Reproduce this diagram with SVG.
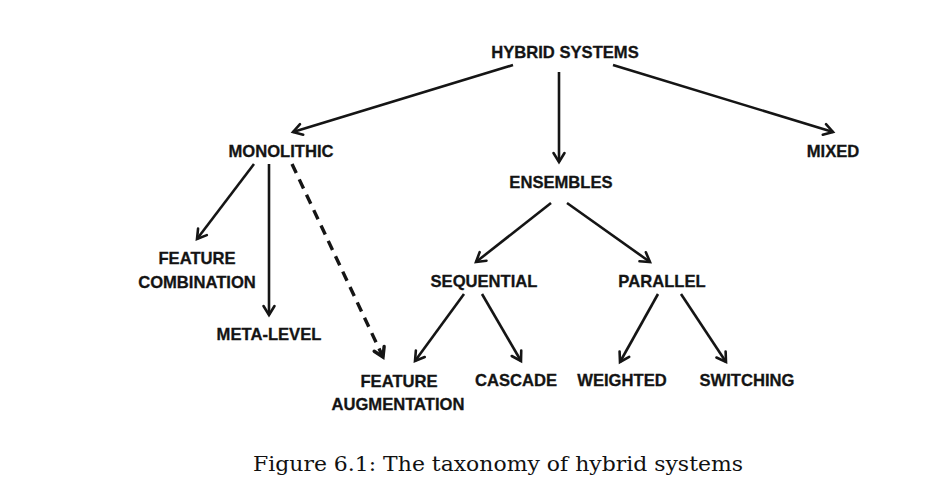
<svg xmlns="http://www.w3.org/2000/svg" width="932" height="496" viewBox="0 0 932 496">
<style>
.lbl{font-family:"Liberation Sans",Arial,sans-serif;font-weight:bold;font-size:16.6px;fill:#141414;text-anchor:middle;stroke:#141414;stroke-width:0.3}
.cap{font-family:"DejaVu Serif","Liberation Serif",serif;font-size:20px;fill:#111}
.c{stroke:#151515;stroke-width:2.6;fill:none}
.d{stroke-width:3.4;stroke-dasharray:10 7}
</style>
<defs>
<marker id="ah" markerUnits="userSpaceOnUse" markerWidth="16" markerHeight="16" viewBox="0 0 16 16" refX="12" refY="8" orient="auto">
<path d="M3,2.5 L12,8 L3,13.5" fill="none" stroke="#151515" stroke-width="2.6" stroke-linecap="round" stroke-linejoin="miter"/>
</marker>
<marker id="ahd" markerUnits="userSpaceOnUse" markerWidth="16" markerHeight="16" viewBox="0 0 16 16" refX="12" refY="8" orient="auto">
<path d="M3,2.5 L12,8 L3,13.5" fill="none" stroke="#151515" stroke-width="3.4" stroke-linecap="round" stroke-linejoin="miter"/>
</marker>
</defs>
<rect width="932" height="496" fill="#fff"/>
<g id="connectors">
<line class="c" x1="513" y1="65" x2="293" y2="132" marker-end="url(#ah)"/>
<line class="c" x1="559" y1="72" x2="559" y2="162" marker-end="url(#ah)"/>
<line class="c" x1="613" y1="65" x2="833" y2="132" marker-end="url(#ah)"/>
<line class="c" x1="254" y1="164" x2="197" y2="239" marker-end="url(#ah)"/>
<line class="c" x1="269" y1="164" x2="269" y2="315" marker-end="url(#ah)"/>
<line class="c d" x1="292" y1="164" x2="383" y2="357" marker-end="url(#ahd)"/>
<line class="c" x1="551" y1="203" x2="476" y2="262" marker-end="url(#ah)"/>
<line class="c" x1="567" y1="203" x2="650" y2="262" marker-end="url(#ah)"/>
<line class="c" x1="464" y1="294" x2="415" y2="361" marker-end="url(#ah)"/>
<line class="c" x1="482" y1="294" x2="521" y2="361" marker-end="url(#ah)"/>
<line class="c" x1="658" y1="294" x2="620" y2="362" marker-end="url(#ah)"/>
<line class="c" x1="681" y1="294" x2="726" y2="362" marker-end="url(#ah)"/>
</g>
<g id="hybrid"><text class="lbl" x="565" y="58">HYBRID SYSTEMS</text></g>
<g id="monolithic"><text class="lbl" x="281" y="157">MONOLITHIC</text></g>
<g id="ensembles"><text class="lbl" x="561" y="188">ENSEMBLES</text></g>
<g id="mixed"><text class="lbl" x="833" y="157">MIXED</text></g>
<g id="feature-combination"><text class="lbl" x="197" y="264">FEATURE</text><text class="lbl" x="197" y="288">COMBINATION</text></g>
<g id="meta-level"><text class="lbl" x="269" y="340">META-LEVEL</text></g>
<g id="feature-augmentation"><text class="lbl" x="399" y="387">FEATURE</text><text class="lbl" x="398" y="410">AUGMENTATION</text></g>
<g id="sequential"><text class="lbl" x="484" y="287">SEQUENTIAL</text></g>
<g id="parallel"><text class="lbl" x="662" y="287">PARALLEL</text></g>
<g id="cascade"><text class="lbl" x="516" y="386">CASCADE</text></g>
<g id="weighted"><text class="lbl" x="622" y="386">WEIGHTED</text></g>
<g id="switching"><text class="lbl" x="747" y="386">SWITCHING</text></g>
<g id="caption"><text class="cap" x="253" y="471" textLength="490" lengthAdjust="spacingAndGlyphs">Figure 6.1: The taxonomy of hybrid systems</text></g>
</svg>
